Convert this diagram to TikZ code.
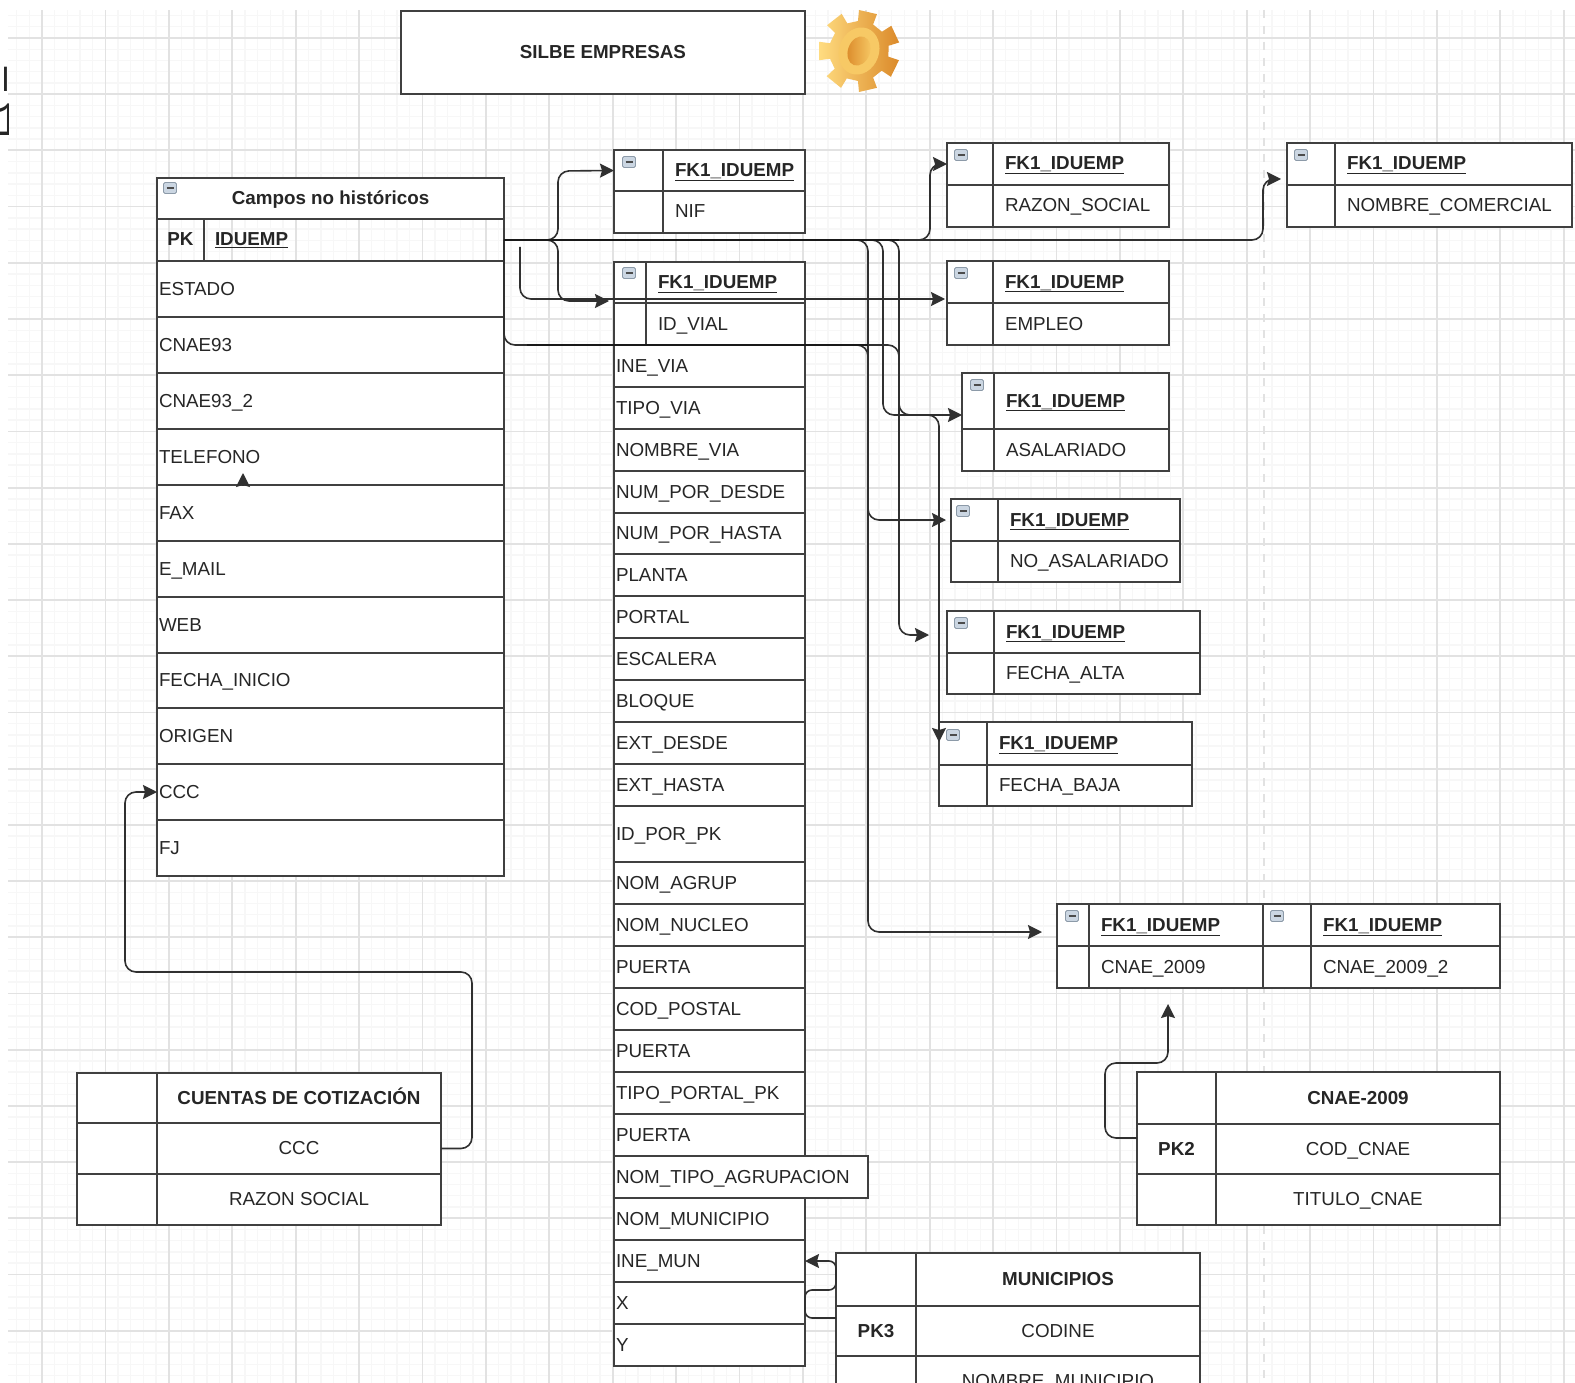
\documentclass[tikz,border=0pt]{standalone}
\usepackage{fontspec}
\setmainfont{Liberation Sans}
\newfontfamily\cutfont{DejaVu Sans}
\newfontfamily\cutmono{Liberation Mono}
\usetikzlibrary{arrows.meta}
\definecolor{tblline}{HTML}{404040}
\definecolor{linkline}{HTML}{303030}
\definecolor{gridmajor}{HTML}{E2E2E2}
\definecolor{gridminor}{HTML}{F7F7F7}
\definecolor{minfill}{HTML}{CBD6E2}
\definecolor{minline}{HTML}{8C9AA8}
\definecolor{gearlight}{HTML}{FFDC80}
\definecolor{geardark}{HTML}{DB8A2A}
\definecolor{gearring}{HTML}{F7C965}
\newcommand{\Fkname}{\underline{\textbf{FK1\_IDUEMP}}}
\tikzset{
  cell/.style 2 args={draw=tblline,fill=white,line width=1.8pt,outer sep=0pt,anchor=north west,inner sep=0pt,minimum width=#1,minimum height=#2,text height=16pt,text depth=4pt},
  rowbox/.style 2 args={cell={#1}{#2},inner xsep=2pt,text width=#1pt-4pt,align=left},
  fieldbox/.style 2 args={cell={#1}{#2},inner xsep=12pt,text width=#1pt-24pt,align=left},
  minbox/.style={draw=minline,fill=minfill,line width=0.8pt,rounded corners=1.5pt,inner sep=0pt,minimum width=13pt,minimum height=11pt,
    path picture={\draw[black!70,line width=1.4pt] ([xshift=3pt]path picture bounding box.west) -- ([xshift=-3pt]path picture bounding box.east);}},
  link/.style={draw=linkline,line width=1.6pt,rounded corners=11pt,-{Stealth[length=14pt,width=14pt,inset=2pt]}},
  heavy/.style={draw=black!90,line width=2.8pt},
}
\begin{document}
\begin{tikzpicture}[x=1pt,y=-1pt,every node/.style={font=\fontsize{18.8pt}{22pt}\selectfont,text=black!85}]
\useasboundingbox (0,0) rectangle (1575,1383);
\fill[white] (0,0) rectangle (1575,1383);
% canvas grid
\begin{scope}[y=1pt,shift={(42,-38)}]
\draw[gridminor,line width=1.4pt,xstep=12.68pt,ystep=11.24pt] (-34,-1345) grid (1533,28);
\draw[gridmajor,line width=1.8pt,xstep=63.4pt,ystep=56.2pt] (-34,-1345) grid (1533,28);
\end{scope}
\draw[gridmajor,line width=2pt,dash pattern=on 8pt off 8pt] (1264,10) -- (1264,1383);
% cut letters on the left edge
\begin{scope}
\clip (0,0) rectangle (8,1383);
\node (cutl) [anchor=base west,inner sep=0pt,font=\cutfont\fontsize{32pt}{36pt}\selectfont] at (1.6,92) {l};
\node (cutone) [anchor=base west,inner sep=0pt,font=\cutmono\fontsize{48pt}{52pt}\selectfont] at (-7,136) {1};
\end{scope}
% title and gear
\node (title) [cell={404}{83}] at (401,11) {\textbf{SILBE EMPRESAS}};
\begin{scope}[shift={(859,51)}]
\shade[left color=gearlight,right color=geardark] (320:30) -- (322:41) -- (348:41) -- (350:30) -- (11:30) -- (13:41) -- (39:41) -- (41:30) -- (62:30) -- (64:41) -- (90:41) -- (92:30) -- (114:30) -- (116:41) -- (142:41) -- (144:30) -- (165:30) -- (167:41) -- (193:41) -- (195:30) -- (217:30) -- (219:41) -- (245:41) -- (247:30) -- (268:30) -- (270:41) -- (296:41) -- (298:30) -- cycle;
\fill[gearring,rotate=-20] (0,0) ellipse (20 and 24);
\shade[left color=geardark,right color=gearring,rotate=-20] (0,0) ellipse (11 and 15);
\end{scope}
% main table
\node (campos) [cell={347}{41}] at (157,178) {\textbf{Campos no históricos}};
\node (pk) [cell={47}{42},fill=none] at (157,219) {\textbf{PK}};
\node (iduemp) [cell={300}{42},fill=none,inner xsep=11pt,text width=278pt,align=left] at (204,219) {\underline{\textbf{IDUEMP}}};
\node (estado) [rowbox={347}{56}] at (157,261) {ESTADO};
\node (cnaeold) [rowbox={347}{56}] at (157,317) {CNAE93};
\node (cnaeoldb) [rowbox={347}{56}] at (157,373) {CNAE93\_2};
\node (telefono) [rowbox={347}{56}] at (157,429) {TELEFONO};
\node (fax) [rowbox={347}{56}] at (157,485) {FAX};
\node (email) [rowbox={347}{56}] at (157,541) {E\_MAIL};
\node (web) [rowbox={347}{56}] at (157,597) {WEB};
\node (inicio) [rowbox={347}{55}] at (157,653) {FECHA\_INICIO};
\node (origen) [rowbox={347}{56}] at (157,708) {ORIGEN};
\node (cccrow) [rowbox={347}{56}] at (157,764) {CCC};
\node (fj) [rowbox={347}{56}] at (157,820) {FJ};
% NIF table
\node (nifa) [cell={49}{41}] at (614,150) {};
\node (nifb) [fieldbox={142}{41}] at (663,150) {\Fkname};
\node (nifc) [cell={49}{42}] at (614,191) {};
\node (nifd) [fieldbox={142}{42}] at (663,191) {NIF};
% address table
\node (viaa) [cell={32}{41}] at (614,262) {};
\node (viab) [fieldbox={159}{41}] at (646,262) {\Fkname};
\node (viac) [cell={32}{42}] at (614,303) {};
\node (viad) [fieldbox={159}{42}] at (646,303) {ID\_VIAL};
\node (inevia) [rowbox={191}{42}] at (614,345) {INE\_VIA};
\node (tipovia) [rowbox={191}{42}] at (614,387) {TIPO\_VIA};
\node (nombrevia) [rowbox={191}{42}] at (614,429) {NOMBRE\_VIA};
\node (numdesde) [rowbox={191}{42}] at (614,471) {NUM\_POR\_DESDE};
\node (numhasta) [rowbox={191}{41}] at (614,513) {NUM\_POR\_HASTA};
\node (planta) [rowbox={191}{42}] at (614,554) {PLANTA};
\node (portal) [rowbox={191}{42}] at (614,596) {PORTAL};
\node (escalera) [rowbox={191}{42}] at (614,638) {ESCALERA};
\node (bloque) [rowbox={191}{42}] at (614,680) {BLOQUE};
\node (extdesde) [rowbox={191}{42}] at (614,722) {EXT\_DESDE};
\node (exthasta) [rowbox={191}{42}] at (614,764) {EXT\_HASTA};
\node (idporpk) [rowbox={191}{56}] at (614,806) {ID\_POR\_PK};
\node (nomagrup) [rowbox={191}{42}] at (614,862) {NOM\_AGRUP};
\node (nomnucleo) [rowbox={191}{42}] at (614,904) {NOM\_NUCLEO};
\node (puertaa) [rowbox={191}{42}] at (614,946) {PUERTA};
\node (codpostal) [rowbox={191}{42}] at (614,988) {COD\_POSTAL};
\node (puertab) [rowbox={191}{42}] at (614,1030) {PUERTA};
\node (tipoportal) [rowbox={191}{42}] at (614,1072) {TIPO\_PORTAL\_PK};
\node (puertac) [rowbox={191}{42}] at (614,1114) {PUERTA};
\node (nomtipo) [rowbox={254}{42}] at (614,1156) {NOM\_TIPO\_AGRUPACION};
\node (nommun) [rowbox={191}{42}] at (614,1198) {NOM\_MUNICIPIO};
\node (inemun) [rowbox={191}{42}] at (614,1240) {INE\_MUN};
\node (xrow) [rowbox={191}{42}] at (614,1282) {X};
\node (yrow) [rowbox={191}{42}] at (614,1324) {Y};
% right tables
\node (raza) [cell={46}{42}] at (947,143) {};
\node (razb) [fieldbox={176}{42}] at (993,143) {\Fkname};
\node (razc) [cell={46}{42}] at (947,185) {};
\node (razd) [fieldbox={176}{42}] at (993,185) {RAZON\_SOCIAL};
\node (noma) [cell={48}{42}] at (1287,143) {};
\node (nomb) [fieldbox={237}{42}] at (1335,143) {\Fkname};
\node (nomc) [cell={48}{42}] at (1287,185) {};
\node (nomd) [fieldbox={237}{42}] at (1335,185) {NOMBRE\_COMERCIAL};
\node (empa) [cell={46}{42}] at (947,261) {};
\node (empb) [fieldbox={176}{42}] at (993,261) {\Fkname};
\node (empc) [cell={46}{42}] at (947,303) {};
\node (empd) [fieldbox={176}{42}] at (993,303) {EMPLEO};
\node (asala) [cell={32}{56}] at (962,373) {};
\node (asalb) [fieldbox={175}{56}] at (994,373) {\Fkname};
\node (asalc) [cell={32}{42}] at (962,429) {};
\node (asald) [fieldbox={175}{42}] at (994,429) {ASALARIADO};
\node (noasa) [cell={47}{42}] at (951,499) {};
\node (noasb) [fieldbox={182}{42}] at (998,499) {\Fkname};
\node (noasc) [cell={47}{41}] at (951,541) {};
\node (noasd) [fieldbox={182}{41}] at (998,541) {NO\_ASALARIADO};
\node (altaa) [cell={47}{42}] at (947,611) {};
\node (altab) [fieldbox={206}{42}] at (994,611) {\Fkname};
\node (altac) [cell={47}{41}] at (947,653) {};
\node (altad) [fieldbox={206}{41}] at (994,653) {FECHA\_ALTA};
\node (bajaa) [cell={48}{43}] at (939,722) {};
\node (bajab) [fieldbox={205}{43}] at (987,722) {\Fkname};
\node (bajac) [cell={48}{41}] at (939,765) {};
\node (bajad) [fieldbox={205}{41}] at (987,765) {FECHA\_BAJA};
% CNAE pair
\node (cnaea) [cell={32}{42}] at (1057,904) {};
\node (cnaeb) [fieldbox={174}{42}] at (1089,904) {\Fkname};
\node (cnaec) [cell={32}{42}] at (1057,946) {};
\node (cnaed) [fieldbox={174}{42}] at (1089,946) {CNAE\_2009};
\node (cnaee) [cell={48}{42}] at (1263,904) {};
\node (cnaef) [fieldbox={189}{42}] at (1311,904) {\Fkname};
\node (cnaeg) [cell={48}{42}] at (1263,946) {};
\node (cnaeh) [fieldbox={189}{42}] at (1311,946) {CNAE\_2009\_2};
% lookup tables
\node (cuea) [cell={80}{50}] at (77,1073) {};
\node (cueb) [cell={284}{50}] at (157,1073) {\textbf{CUENTAS DE COTIZACIÓN}};
\node (cuec) [cell={80}{51}] at (77,1123) {};
\node (cued) [cell={284}{51}] at (157,1123) {CCC};
\node (cuee) [cell={80}{51}] at (77,1174) {};
\node (cuef) [cell={284}{51}] at (157,1174) {RAZON SOCIAL};
\node (tita) [cell={79}{52}] at (1137,1072) {};
\node (titb) [cell={284}{52}] at (1216,1072) {\textbf{CNAE-2009}};
\node (pktwo) [cell={79}{50}] at (1137,1124) {\textbf{PK2}};
\node (titd) [cell={284}{50}] at (1216,1124) {COD\_CNAE};
\node (tite) [cell={79}{51}] at (1137,1174) {};
\node (titf) [cell={284}{51}] at (1216,1174) {TITULO\_CNAE};
\node (muna) [cell={80}{53}] at (836,1253) {};
\node (munb) [cell={284}{53}] at (916,1253) {\textbf{MUNICIPIOS}};
\node (pkthree) [cell={80}{50}] at (836,1306) {\textbf{PK3}};
\node (mund) [cell={284}{50}] at (916,1306) {CODINE};
\node (mune) [cell={80}{51}] at (836,1356) {};
\node (munf) [cell={284}{51}] at (916,1356) {NOMBRE\_MUNICIPIO};
% collapse marks
\node (minc) [minbox] at (170,188) {};
\node (minn) [minbox] at (629,162) {};
\node (minv) [minbox] at (629,273) {};
\node (minr) [minbox] at (961,155) {};
\node (minm) [minbox] at (1301,155) {};
\node (mine) [minbox] at (961,273) {};
\node (mina) [minbox] at (977,385) {};
\node (mino) [minbox] at (963,511) {};
\node (minl) [minbox] at (961,623) {};
\node (minb) [minbox] at (953,735) {};
\node (mind) [minbox] at (1072,916) {};
\node (minf) [minbox] at (1277,916) {};
% free ends
\coordinate (empstub) at (520,247);
\coordinate (empin) at (945,299);
\coordinate (viastub) at (527,345);
\coordinate (nomin) at (1281,179);
\coordinate (asalin) at (962,415);
\coordinate (bajain) at (939,742);
\coordinate (altain) at (929,635);
\coordinate (cnaein) at (1042,932);
\coordinate (cnaeup) at (1168,1004);
\coordinate (pktwoout) at (1137,1138);
\coordinate (pkthreeout) at (836,1318);
\coordinate (telebase) at (243,485);
\coordinate (teletip) at (243,473);
\coordinate (busend) at (899,240);
\coordinate (viaend) at (868,345);
% connectors
\draw[link] (iduemp.east) -| (558,171) -- (nifa.west);
\draw[link] (iduemp.east) -| (558,301) -- ([xshift=-5pt,yshift=2pt]viaa.south west);
\draw[link] (empstub) |- (empin);
\draw[link] (iduemp.east) -| (930,164) -- (raza.west);
\draw[link] (iduemp.east) -| (1263,179) -- (nomin);
\draw[link] (iduemp.east) -| (868,520) -- ([xshift=-5pt]noasa.west);
\draw[link] (iduemp.east) -| (883,415) -- (asalin);
\draw[link] (iduemp.east) -| (899,415) -| (bajain);
\draw[link] (iduemp.east) |- (868,345) |- (cnaein);
\draw[link] (viastub) -| (899,635) -- (altain);
\draw[link] (cued.east) -| (472,972) -| (125,792) -- (cccrow.west);
\draw[link] (pktwoout) -| (1105,1063) -| (cnaeup);
\draw[link,rounded corners=7pt] (pkthreeout) -| (805,1290) -| (836,1261) -- (inemun.east);
\draw[link] (telebase) -- (teletip);
\draw[heavy] (iduemp.east) -- (busend);
\draw[heavy] (viastub) -- (viaend);
\end{tikzpicture}
\end{document}
